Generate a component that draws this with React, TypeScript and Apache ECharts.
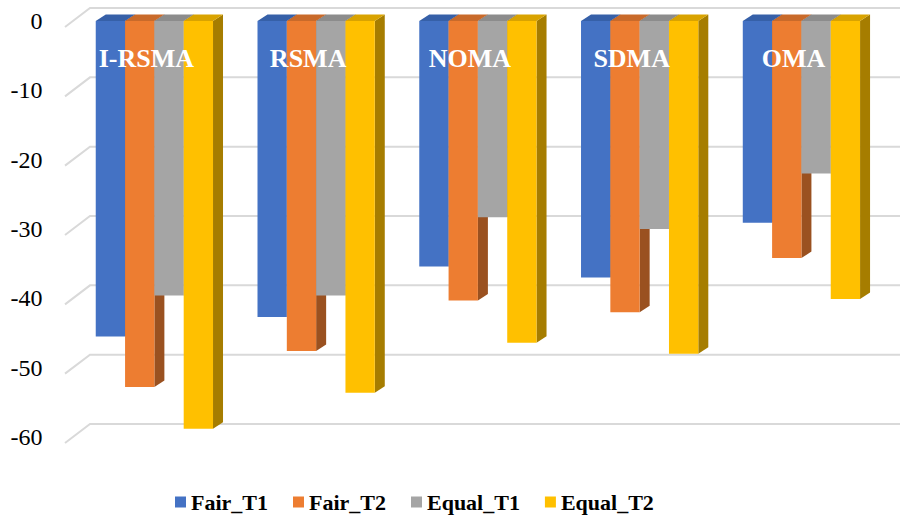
import React, { useEffect, useRef } from "react";
import * as echarts from "echarts";

const categories = ["I-RSMA", "RSMA", "NOMA", "SDMA", "OMA"];
const seriesNames = ["Fair_T1", "Fair_T2", "Equal_T1", "Equal_T2"];
const fairT1 = [-45.5, -42.7, -35.4, -37.0, -29.1];
const fairT2 = [-52.8, -47.6, -40.3, -42.0, -34.2];
const equalT1 = [-39.6, -39.6, -28.3, -30.0, -22.0];
const equalT2 = [-58.8, -53.6, -46.4, -48.0, -40.1];
const yTicks = [0, -10, -20, -30, -40, -50, -60];

const frontColors = ["#4472C4", "#ED7D31", "#A5A5A5", "#FFC000"];
const sideColors = ["#2C4A80", "#9A5120", "#6B6B6B", "#A67D00"];
const topColors = ["#3660A8", "#C96A2A", "#8C8C8C", "#D9A300"];

const FONT = "Liberation Serif, Times New Roman, serif";

export default function App() {
  const ref = useRef<HTMLDivElement>(null);

  useEffect(() => {
    if (!ref.current) return;
    const chart = echarts.init(ref.current, null, { renderer: "svg" });
    const allSeries = [fairT1, fairT2, equalT1, equalT2];
    const DX = 10;
    const DY = -6.5;

    const barSeries = allSeries.map((vals, s) => ({
      type: "custom",
      name: seriesNames[s],
      z: 3,
      itemStyle: { color: frontColors[s] },
      encode: { x: 0, y: 1 },
      data: vals.map((v, i) => [i, v]),
      renderItem: (params: any, api: any) => {
        const ci = api.value(0);
        const v = api.value(1);
        const bandW = api.size([1, 0])[0];
        const groupW = bandW * 0.725;
        const barW = groupW / 4;
        const p0 = api.coord([ci, 0]);
        const p1 = api.coord([ci, v]);
        const x = p0[0] - groupW / 2 + s * barW;
        const y0 = p0[1];
        const y1 = p1[1];
        return {
          type: "group",
          children: [
            {
              type: "polygon",
              shape: {
                points: [
                  [x + barW, y0],
                  [x + barW + DX, y0 + DY],
                  [x + barW + DX, y1 + DY],
                  [x + barW, y1],
                ],
              },
              style: { fill: sideColors[s] },
            },
            {
              type: "polygon",
              shape: {
                points: [
                  [x, y0],
                  [x + DX, y0 + DY],
                  [x + barW + DX, y0 + DY],
                  [x + barW, y0],
                ],
              },
              style: { fill: topColors[s] },
            },
            {
              type: "rect",
              shape: { x: x, y: y0, width: barW, height: y1 - y0 },
              style: { fill: frontColors[s] },
            },
          ],
        };
      },
    }));

    const gridSeries = {
      type: "custom",
      name: "grid",
      z: 1,
      silent: true,
      encode: { x: 0, y: 1 },
      data: yTicks.map((t) => [0, t]),
      renderItem: (params: any, api: any) => {
        const cs = params.coordSys;
        const y = api.coord([0, api.value(1)])[1];
        const left = cs.x;
        return {
          type: "polyline",
          shape: {
            points: [
              [left - 8.5, y + 6],
              [left + 16.5, y - 13],
              [900, y - 13],
            ],
          },
          style: { stroke: "#D9D9D9", lineWidth: 2, fill: "none" },
        };
      },
    };

    chart.setOption({
      animation: false,
      textStyle: { fontFamily: FONT },
      grid: { left: 73.5, right: 24.7, top: 21, bottom: 80, containLabel: false },
      legend: {
        data: seriesNames,
        left: 170,
        top: 486,
        icon: "rect",
        itemWidth: 11,
        itemHeight: 11,
        itemGap: 25,
        textStyle: {
          fontFamily: FONT,
          fontWeight: "bold",
          fontSize: 22,
          color: "#000",
        },
      },
      xAxis: {
        type: "category",
        data: categories,
        position: "top",
        z: 10,
        axisLine: { show: false, onZero: false },
        axisTick: { show: false },
        splitLine: { show: false },
        axisLabel: {
          inside: true,
          color: "#FFFFFF",
          fontFamily: FONT,
          fontWeight: "bold",
          fontSize: 26,
          margin: 24,
          padding: [0, 16, 0, 0],
        },
      },
      yAxis: {
        type: "value",
        min: -60,
        max: 0,
        interval: 10,
        axisLine: { show: false },
        axisTick: { show: false },
        splitLine: { show: false },
        axisLabel: {
          color: "#000",
          fontFamily: FONT,
          fontSize: 24,
          margin: 31,
          padding: [14, 0, 0, 0],
        },
      },
      series: [gridSeries, ...barSeries],
    });

    return () => chart.dispose();
  }, []);

  return (
    <div
      ref={ref}
      style={{ position: "fixed", left: 0, top: 0, width: 907, height: 517, background: "#fff" }}
    />
  );
}
